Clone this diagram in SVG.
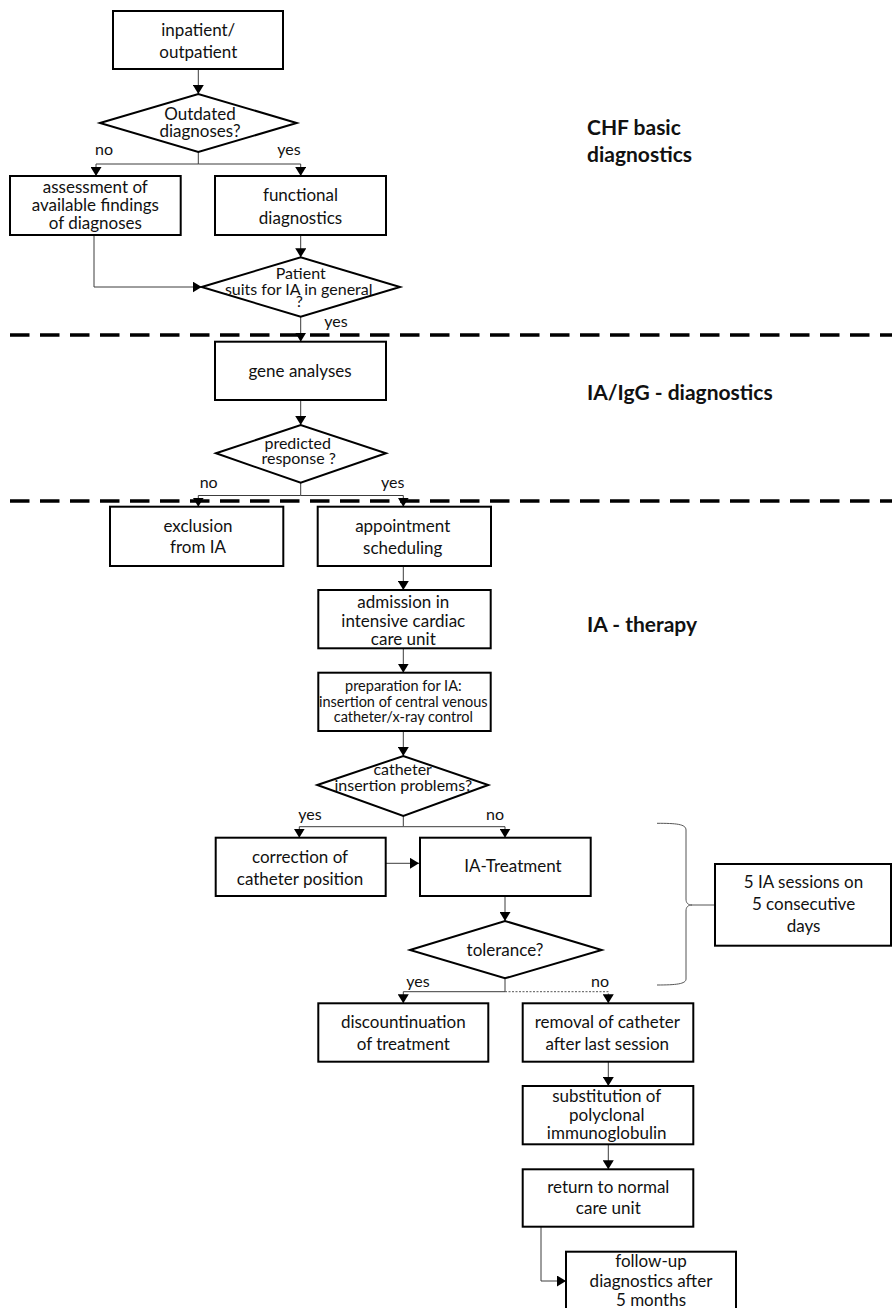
<svg xmlns="http://www.w3.org/2000/svg" width="892" height="1308" viewBox="0 0 892 1308">
  <defs>
    <marker id="arrow" viewBox="0 0 9 11" markerWidth="9" markerHeight="11" refX="9" refY="5.5" orient="auto" markerUnits="userSpaceOnUse">
      <path d="M0,0 L9,5.5 L0,11 Z" fill="#000"/>
    </marker>
    <style>
      text { font-family: Lato, "Liberation Sans", sans-serif; fill: #111; }
      .t { font-size: 17px; text-anchor: middle; }
      .s { font-size: 14.5px; text-anchor: middle; }
      .d { font-size: 16px; text-anchor: middle; }
      .lbl { font-size: 16px; text-anchor: middle; }
      .sec { font-size: 21px; font-weight: bold; }
      .box { fill: #fff; stroke: #000; stroke-width: 2; }
      .dia { fill: #fff; stroke: #000; stroke-width: 2; }
      .c { fill: none; stroke: #3c3c3c; stroke-width: 1; }
      .ca { fill: none; stroke: #3c3c3c; stroke-width: 1; marker-end: url(#arrow); }
      .dot { fill: none; stroke: #555; stroke-width: 1; stroke-dasharray: 2 1.5; }
      .sep { fill: none; stroke: #000; stroke-width: 3.5; stroke-dasharray: 19.5 10.5; }
      .brace { fill: none; stroke: #555; stroke-width: 1; }
    </style>
  </defs>

  <!-- phase separators -->
  <g id="separators">
    <line class="sep" x1="10" y1="335" x2="892" y2="335"/>
    <line class="sep" x1="10" y1="501" x2="892" y2="501"/>
  </g>

  <!-- phase titles -->
  <g id="phase-titles">
    <text class="sec" x="587" y="135">CHF basic</text>
    <text class="sec" x="587" y="162">diagnostics</text>
    <text class="sec" x="587" y="400">IA/IgG - diagnostics</text>
    <text class="sec" x="587" y="632">IA - therapy</text>
  </g>

  <!-- connectors -->
  <g id="connectors">
    <line class="ca" x1="198.3" y1="69" x2="198.3" y2="94"/>
    <polyline class="c" points="198.3,152 198.3,164"/>
    <polyline class="ca" points="198.3,164 96,164 96,176"/>
    <polyline class="ca" points="198.3,164 300.7,164 300.7,176"/>
    <line class="ca" x1="300.7" y1="235" x2="300.7" y2="257.3"/>
    <polyline class="ca" points="94,235 94,287 201.7,287"/>
    <line class="ca" x1="300.7" y1="316.7" x2="300.7" y2="341.7"/>
    <line class="ca" x1="300.7" y1="400" x2="300.7" y2="425"/>
    <polyline class="c" points="300.7,482.7 300.7,495.5"/>
    <polyline class="ca" points="300.7,495.5 198.3,495.5 198.3,506.7"/>
    <polyline class="ca" points="300.7,495.5 403.3,495.5 403.3,506.7"/>
    <line class="ca" x1="403.3" y1="566" x2="403.3" y2="590"/>
    <line class="ca" x1="403.3" y1="648.3" x2="403.3" y2="672.7"/>
    <line class="ca" x1="403.3" y1="731" x2="403.3" y2="756"/>
    <polyline class="c" points="403.3,816 403.3,826.7"/>
    <polyline class="ca" points="403.3,826.7 299.3,826.7 299.3,837.7"/>
    <polyline class="ca" points="403.3,826.7 505,826.7 505,837.7"/>
    <line class="ca" x1="385.7" y1="863.3" x2="419" y2="863.3"/>
    <line class="ca" x1="505" y1="896" x2="505" y2="921"/>
    <polyline class="c" points="505,978.3 505,991.7"/>
    <polyline class="ca" points="505,991.7 403.3,991.7 403.3,1003.3"/>
    <polyline class="dot" points="505,991.7 608.3,991.7 608.3,995"/>
    <line class="ca" x1="608.3" y1="995" x2="608.3" y2="1003.3"/>
    <line class="ca" x1="608.3" y1="1061.7" x2="608.3" y2="1086"/>
    <line class="ca" x1="608.3" y1="1144.3" x2="608.3" y2="1169.3"/>
    <polyline class="ca" points="541,1226.7 541,1281 566,1281"/>
    <!-- brace grouping the treatment loop -->
    <path class="brace" d="M657,823.3 C676,823.3 686,824 686,830 L686,899 C686,903 688,905 692,905 C688,905 686,907 686,911 L686,979 C686,984 676,985 657,985"/>
    <line class="brace" x1="692" y1="905" x2="715" y2="905"/>
  </g>

  <!-- branch labels -->
  <g id="branch-labels">
    <text class="lbl" x="104" y="155">no</text>
    <text class="lbl" x="289" y="155">yes</text>
    <text class="lbl" x="336" y="327">yes</text>
    <text class="lbl" x="208.7" y="488">no</text>
    <text class="lbl" x="392.7" y="488">yes</text>
    <text class="lbl" x="310" y="820">yes</text>
    <text class="lbl" x="495" y="820">no</text>
    <text class="lbl" x="418" y="986.5">yes</text>
    <text class="lbl" x="600" y="986.5">no</text>
  </g>

  <g id="inpatient">
    <rect class="box" x="113" y="11" width="170" height="58"/>
    <text class="t" x="198.3" y="36">inpatient/</text>
    <text class="t" x="198.3" y="57.5">outpatient</text>
  </g>

  <g id="outdated">
    <polygon class="dia" points="100,123 198.3,94 296.7,123 198.3,152"/>
    <text class="t" x="200" y="120">Outdated</text>
    <text class="t" x="200" y="136.5">diagnoses?</text>
  </g>

  <g id="assessment">
    <rect class="box" x="10" y="176" width="170.7" height="59"/>
    <text class="t" x="95.3" y="192.5">assessment of</text>
    <text class="t" x="95.3" y="211">available findings</text>
    <text class="t" x="95.3" y="228.5">of diagnoses</text>
  </g>

  <g id="functional">
    <rect class="box" x="215" y="176" width="171" height="59"/>
    <text class="t" x="300.5" y="201">functional</text>
    <text class="t" x="300.5" y="224">diagnostics</text>
  </g>

  <g id="suits">
    <polygon class="dia" points="201.7,287 300.7,257.3 400,287 300.7,316.7"/>
    <text class="d" x="300.7" y="279">Patient</text>
    <text class="d" x="298.7" y="295">suits for IA in general</text>
    <text class="d" x="299.3" y="307">?</text>
  </g>

  <g id="gene">
    <rect class="box" x="215" y="341.7" width="171" height="58.3"/>
    <text class="t" x="300" y="376.5">gene analyses</text>
  </g>

  <g id="predicted">
    <polygon class="dia" points="216,453.3 300.7,425 386,453.3 300.7,482.7"/>
    <text class="d" x="297.7" y="449.3">predicted</text>
    <text class="d" x="298.7" y="464.3">response ?</text>
  </g>

  <g id="exclusion">
    <rect class="box" x="110" y="506.7" width="173.3" height="59.3"/>
    <text class="t" x="198" y="532.3">exclusion</text>
    <text class="t" x="198" y="553.3">from IA</text>
  </g>

  <g id="appointment">
    <rect class="box" x="317.7" y="506.7" width="173.3" height="59.3"/>
    <text class="t" x="402.7" y="531.7">appointment</text>
    <text class="t" x="402.7" y="554.3">scheduling</text>
  </g>

  <g id="admission">
    <rect class="box" x="318.3" y="590" width="172.4" height="58.3"/>
    <text class="t" x="403.3" y="608.3">admission in</text>
    <text class="t" x="403.3" y="626.7">intensive cardiac</text>
    <text class="t" x="403.3" y="645">care unit</text>
  </g>

  <g id="preparation">
    <rect class="box" x="318.3" y="672.7" width="172.4" height="58.3"/>
    <text class="s" x="403.3" y="691">preparation for IA:</text>
    <text class="s" x="403.3" y="706.7">insertion of central venous</text>
    <text class="s" x="403.3" y="722.3">catheter/x-ray control</text>
  </g>

  <g id="catheter-problems">
    <polygon class="dia" points="317.3,785 403.3,756 488.3,785 403.3,816"/>
    <text class="d" x="402.7" y="775">catheter</text>
    <text class="d" x="403.3" y="791">insertion problems?</text>
  </g>

  <g id="correction">
    <rect class="box" x="215.7" y="837.7" width="170" height="58.3"/>
    <text class="t" x="300" y="862.7">correction of</text>
    <text class="t" x="300" y="885">catheter position</text>
  </g>

  <g id="treatment">
    <rect class="box" x="420" y="837.7" width="170.7" height="58.3"/>
    <text class="t" x="513" y="871.7">IA-Treatment</text>
  </g>

  <g id="tolerance">
    <polygon class="dia" points="410,950 505,921 601.7,950 505,978.3"/>
    <text class="t" x="505" y="955.5">tolerance?</text>
  </g>

  <g id="discontinuation">
    <rect class="box" x="318.3" y="1003.3" width="170" height="58.4"/>
    <text class="t" x="403.3" y="1028.3">discountinuation</text>
    <text class="t" x="403.3" y="1050">of treatment</text>
  </g>

  <g id="removal">
    <rect class="box" x="522.7" y="1003.3" width="170.6" height="58.4"/>
    <text class="t" x="607.3" y="1028.3">removal of catheter</text>
    <text class="t" x="607.3" y="1050">after last session</text>
  </g>

  <g id="substitution">
    <rect class="box" x="522.7" y="1086" width="170.6" height="58.3"/>
    <text class="t" x="606.7" y="1101.7">substitution of</text>
    <text class="t" x="606.7" y="1120.5">polyclonal</text>
    <text class="t" x="606.7" y="1139.3">immunoglobulin</text>
  </g>

  <g id="return">
    <rect class="box" x="522.7" y="1169.3" width="170.6" height="57.4"/>
    <text class="t" x="608.3" y="1193.3">return to normal</text>
    <text class="t" x="608.3" y="1214.3">care unit</text>
  </g>

  <g id="follow-up">
    <rect class="box" x="566" y="1251.7" width="170" height="60"/>
    <text class="t" x="651" y="1266.7">follow-up</text>
    <text class="t" x="651" y="1286.5">diagnostics after</text>
    <text class="t" x="651" y="1305.5">5 months</text>
  </g>

  <g id="sessions">
    <rect class="box" x="715" y="864" width="176" height="81.7"/>
    <text class="t" x="803.5" y="888">5 IA sessions on</text>
    <text class="t" x="803.5" y="910">5 consecutive</text>
    <text class="t" x="803.5" y="932">days</text>
  </g>
</svg>
